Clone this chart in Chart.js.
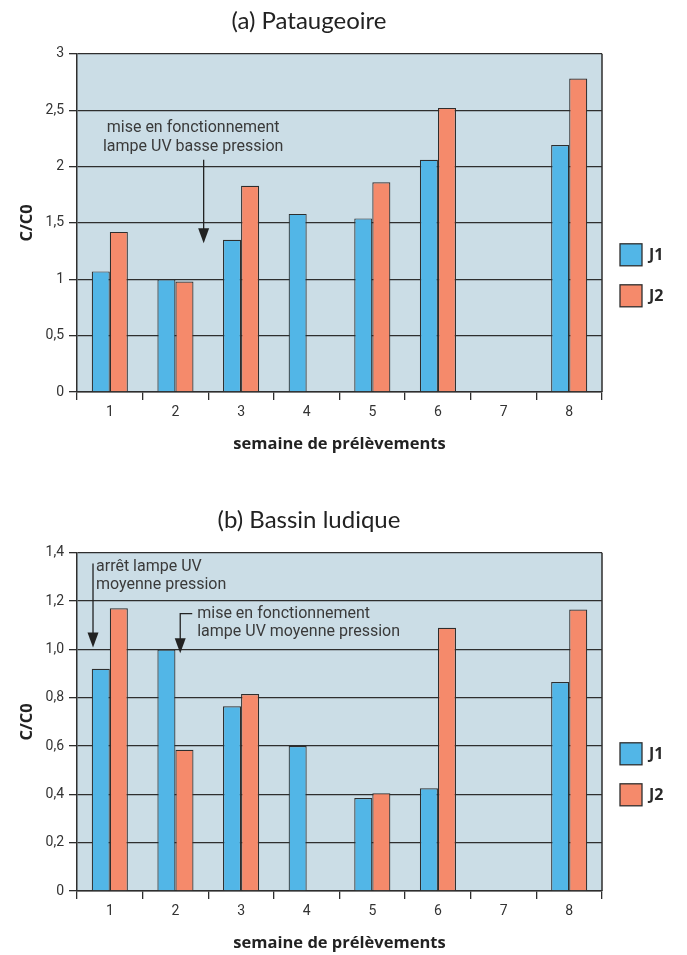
<!DOCTYPE html>
<html>
<head>
<meta charset="utf-8">
<script src="https://cdn.jsdelivr.net/npm/chart.js@4.4.0/dist/chart.umd.min.js"></script>
<style>
  body { margin: 0; background: #fff; width: 687px; height: 955px; position: relative; overflow: hidden; }
  .box { position: absolute; left: 0; width: 687px; height: 456px; }
</style>
</head>
<body>
<div class="box" style="top:0"><canvas id="chartA"></canvas></div>
<div class="box" style="top:499px"><canvas id="chartB"></canvas></div>
<script>
const weeks = ["1", "2", "3", "4", "5", "6", "7", "8"];
const seriesNames = ["J1", "J2"];

// (a) Pataugeoire
const j1A = [1.07, 1.00, 1.35, 1.58, 1.54, 2.06, null, 2.19];
const j2A = [1.42, 0.98, 1.83, null, 1.86, 2.52, null, 2.78];
const yTicksA = ["0", "0,5", "1", "1,5", "2", "2,5", "3"];

// (b) Bassin ludique
const j1B = [0.92, 1.00, 0.765, 0.60, 0.385, 0.425, null, 0.865];
const j2B = [1.17, 0.585, 0.815, null, 0.405, 1.09, null, 1.165];
const yTicksB = ["0", "0,2", "0,4", "0,6", "0,8", "1,0", "1,2", "1,4"];

const BLUE = "#52b6e7";
const ORANGE = "#f58a6b";
const INK = "#2e2e2e";
const PLOT_BG = "#cbdde6";

// annotations: x in category units (0 = first week), y in data units
const notesA = [
  { lines: ["mise en fonctionnement", "lampe UV basse pression"], x: 1.27, y: [2.34, 2.17], align: "center",
    arrow: [[1.43, 2.06], [1.43, 1.32]] }
];
const notesB = [
  { lines: ["arrêt lampe UV", "moyenne pression"], x: -0.21, y: [1.342, 1.268], align: "left",
    arrow: [[-0.256, 1.356], [-0.256, 1.008]] },
  { lines: ["mise en fonctionnement", "lampe UV moyenne pression"], x: 1.332, y: [1.148, 1.071], align: "left",
    arrow: [[1.256, 1.148], [1.073, 1.148], [1.073, 0.984]] }
];

const plotDecor = {
  id: "plotDecor",
  beforeDraw(chart) {
    const a = chart.chartArea, ctx = chart.ctx;
    ctx.save();
    ctx.fillStyle = PLOT_BG;
    ctx.fillRect(a.left, a.top, a.right - a.left, a.bottom - a.top);
    ctx.restore();
  },
  afterDraw(chart, args, opts) {
    const a = chart.chartArea, ctx = chart.ctx;
    const xs = chart.scales.x, ys = chart.scales.y;
    const step = xs.getPixelForValue(1) - xs.getPixelForValue(0);
    const px = v => xs.getPixelForValue(0) + v * step;
    ctx.save();
    // right border
    ctx.strokeStyle = INK;
    ctx.lineWidth = 1.5;
    ctx.beginPath();
    ctx.moveTo(a.right, a.top);
    ctx.lineTo(a.right, a.bottom);
    ctx.stroke();

    // notes
    ctx.font = "16px Roboto";
    ctx.fillStyle = "#3a3a3a";
    ctx.textBaseline = "middle";
    (opts.notes || []).forEach(n => {
      ctx.textAlign = n.align;
      n.lines.forEach((t, i) => ctx.fillText(t, px(n.x), ys.getPixelForValue(n.y[i])));
      const pts = n.arrow.map(p => [px(p[0]), ys.getPixelForValue(p[1])]);
      const tip = pts[pts.length - 1];
      ctx.strokeStyle = "#222";
      ctx.lineWidth = 1.3;
      ctx.beginPath();
      ctx.moveTo(pts[0][0], pts[0][1]);
      for (let i = 1; i < pts.length - 1; i++) ctx.lineTo(pts[i][0], pts[i][1]);
      ctx.lineTo(tip[0], tip[1] - 14);
      ctx.stroke();
      ctx.fillStyle = "#222";
      ctx.beginPath();
      ctx.moveTo(tip[0], tip[1]);
      ctx.lineTo(tip[0] - 5.5, tip[1] - 15);
      ctx.lineTo(tip[0] + 5.5, tip[1] - 15);
      ctx.closePath();
      ctx.fill();
      ctx.fillStyle = "#3a3a3a";
    });

    // legend
    chart.data.datasets.forEach((ds, i) => {
      const bx = a.right + 18, by = a.top + 190 + i * 41;
      ctx.fillStyle = ds.backgroundColor;
      ctx.fillRect(bx, by, 22, 22);
      ctx.strokeStyle = INK;
      ctx.lineWidth = 1.3;
      ctx.strokeRect(bx, by, 22, 22);
      ctx.fillStyle = "#2a2a2a";
      ctx.font = "bold 16px 'Open Sans'";
      ctx.textAlign = "left";
      ctx.textBaseline = "middle";
      ctx.fillText(ds.label, bx + 29, by + 12);
    });
    ctx.restore();
  }
};

function makeChart(id, title, j1, j2, yMax, yStep, yTicks, notes) {
  return new Chart(document.getElementById(id), {
    type: "bar",
    data: {
      labels: weeks,
      datasets: [
        { label: seriesNames[0], data: j1, backgroundColor: BLUE, borderColor: INK, borderWidth: 1.2,
          categoryPercentage: 0.55, barPercentage: 1.0 },
        { label: seriesNames[1], data: j2, backgroundColor: ORANGE, borderColor: INK, borderWidth: 1.2,
          categoryPercentage: 0.55, barPercentage: 1.0 }
      ]
    },
    options: {
      responsive: true,
      maintainAspectRatio: false,
      animation: false,
      layout: { padding: { left: 16, right: 85, top: 0, bottom: 0 } },
      plugins: {
        legend: { display: false },
        tooltip: { enabled: false },
        title: {
          display: true,
          text: title,
          color: "#222",
          font: { family: "Lato", size: 24, weight: "normal" },
          padding: { top: 7, bottom: 18 }
        },
        plotDecor: { notes: notes }
      },
      scales: {
        x: {
          offset: true,
          grid: { offset: true, drawOnChartArea: false, drawTicks: true, tickLength: 8, color: INK, lineWidth: 1.3 },
          border: { color: INK, width: 1.5 },
          ticks: { color: "#333", font: { family: "Roboto", size: 14 }, padding: 4 },
          title: { display: true, text: "semaine de prélèvements", color: "#222",
                   font: { family: "Open Sans", size: 16.5, weight: "bold" }, padding: { top: 10, bottom: 2 } },
          afterFit(s) { s.height = 64; }
        },
        y: {
          min: 0,
          max: yMax,
          ticks: {
            stepSize: yStep,
            color: "#333",
            font: { family: "Roboto", size: 14 },
            padding: 5,
            callback: (v, i) => yTicks[i]
          },
          grid: { color: INK, lineWidth: 1.3, tickLength: 8 },
          border: { color: INK, width: 1.5 },
          title: { display: true, text: "C/C0", color: "#222",
                   font: { family: "Open Sans", size: 16.5, weight: "bold" }, padding: 1 },
          afterFit(s) { s.width = 61; }
        }
      }
    },
    plugins: [plotDecor]
  });
}

makeChart("chartA", "(a) Pataugeoire", j1A, j2A, 3, 0.5, yTicksA, notesA);
makeChart("chartB", "(b) Bassin ludique", j1B, j2B, 1.4, 0.2, yTicksB, notesB);
</script>
</body>
</html>
